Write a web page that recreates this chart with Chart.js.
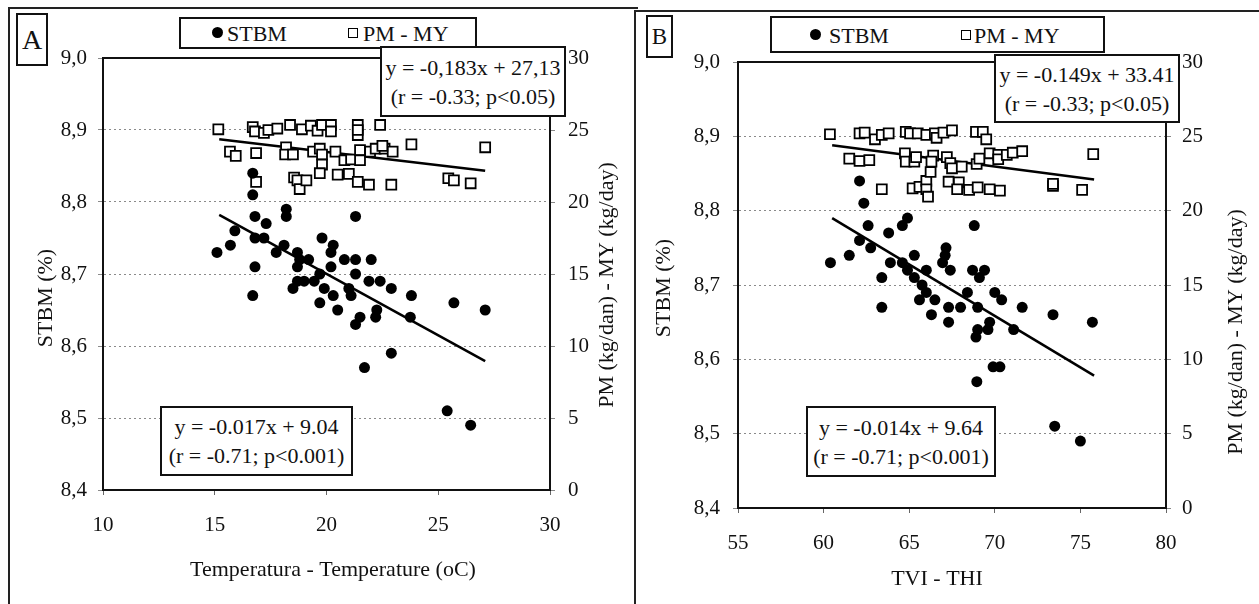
<!DOCTYPE html>
<html>
<head>
<meta charset="utf-8">
<script src="https://cdn.jsdelivr.net/npm/chart.js@4.4.1/dist/chart.umd.min.js"></script>
<style>
  body { margin: 0; width: 1259px; height: 604px; position: relative; overflow: hidden; background: #fff;
         font-family: "Liberation Serif", "Times New Roman", serif; color: #111; }
  canvas { position: absolute; top: 0; }
  .frame { position: absolute; border-left: 2px solid #222; border-top: 2px solid #222; box-sizing: border-box; }
  .box { position: absolute; background: #fff; border: 2px solid #111; box-sizing: border-box; }
  .letter { display: flex; align-items: center; justify-content: center; }
  .eq { display: flex; flex-direction: column; align-items: center; justify-content: center; font-size: 22px; line-height: 29px; white-space: nowrap; }
  .legend span { position: absolute; }
  .legend .lbl { font-size: 22px; line-height: 22px; }
  .dot { width: 11px; height: 11px; border-radius: 50%; background: #000; }
  .sq { width: 8px; height: 8px; border: 1.5px solid #000; background: #fff; }
</style>
</head>
<body>
<div class="frame" style="left:8px;top:7px;width:630px;height:600px"></div>
<div class="frame" style="left:634px;top:10px;width:640px;height:600px"></div>

<canvas id="chartA" width="630" height="604" style="left:0"></canvas>
<canvas id="chartB" width="629" height="604" style="left:630px"></canvas>

<div class="box letter" style="left:16px;top:13px;width:32px;height:53px;font-size:28px">A</div>
<div class="box letter" style="left:646px;top:15px;width:27px;height:43px;font-size:23px">B</div>

<div class="box legend" style="left:179px;top:17px;width:298px;height:32px">
  <span class="dot" style="left:31px;top:8px"></span><span class="lbl" style="left:46px;top:4px">STBM</span>
  <span class="sq" style="left:167px;top:9px"></span><span class="lbl" style="left:182px;top:4px">PM - MY</span>
</div>
<div class="box legend" style="left:770px;top:16px;width:335px;height:37px">
  <span class="dot" style="left:38px;top:11px"></span><span class="lbl" style="left:57px;top:7px">STBM</span>
  <span class="sq" style="left:189px;top:12px"></span><span class="lbl" style="left:202px;top:7px">PM - MY</span>
</div>

<div class="box eq" style="left:380px;top:46px;width:186px;height:71px">
  <div>y = -0,183x + 27,13</div><div>(r = -0.33; p&lt;0.05)</div>
</div>
<div class="box eq" style="left:160px;top:406px;width:193px;height:70px">
  <div>y = -0.017x + 9.04</div><div>(r = -0.71; p&lt;0.001)</div>
</div>
<div class="box eq" style="left:994px;top:54px;width:186px;height:69px">
  <div>y = -0.149x + 33.41</div><div>(r = -0.33; p&lt;0.05)</div>
</div>
<div class="box eq" style="left:806px;top:406px;width:190px;height:71px">
  <div>y = -0.014x + 9.64</div><div>(r = -0.71; p&lt;0.001)</div>
</div>

<script>
// ---- panel A: temperature ----
const tempStbm = [15.1, 15.7, 15.9, 16.7, 16.7, 16.8, 17.3, 16.8, 17.2, 16.8, 16.7, 17.75, 18.2, 18.2, 18.1,
  18.7, 18.8, 19.2, 18.7, 18.7, 19.0, 18.5, 19.8, 20.3, 20.2, 19.7, 19.9, 19.45, 20.2, 20.8, 21.3, 21.3,
  22.0, 21.3, 21.9, 22.4, 22.9, 21.0, 20.3, 21.1, 23.8, 19.7, 20.5, 21.5, 21.3, 22.25, 22.2, 23.75, 25.7,
  27.1, 22.9, 21.7, 25.4, 26.45];
const stbmA = [8.73, 8.74, 8.76, 8.84, 8.81, 8.78, 8.77, 8.75, 8.75, 8.71, 8.67, 8.73, 8.79, 8.78, 8.74,
  8.73, 8.72, 8.72, 8.71, 8.69, 8.69, 8.68, 8.75, 8.74, 8.73, 8.70, 8.68, 8.69, 8.71, 8.72, 8.72, 8.78,
  8.72, 8.70, 8.69, 8.69, 8.68, 8.68, 8.67, 8.67, 8.67, 8.66, 8.65, 8.64, 8.63, 8.65, 8.64, 8.64, 8.66,
  8.65, 8.59, 8.57, 8.51, 8.49];
const tempPm = [15.16, 15.68, 15.94, 16.85, 16.7, 16.8, 17.2, 17.4, 17.8, 18.37, 18.19, 18.15, 18.5, 18.9,
  19.3, 19.6, 19.8, 20.2, 20.2, 19.4, 19.7, 19.8, 19.8, 19.7, 20.4, 20.8, 21.1, 21.5, 21.4, 21.4, 21.4,
  22.4, 21.5, 21.95, 22.2, 22.6, 22.96, 23.8, 20.5, 21.0, 21.4, 21.9, 22.9, 18.55, 18.7, 18.8, 19.1,
  16.85, 27.1, 25.45, 25.7, 26.45, 22.5];
const pmA = [25.05, 23.5, 23.2, 23.4, 25.2, 24.9, 24.8, 25.0, 25.1, 25.35, 23.8, 23.3, 23.3, 25.05,
  25.3, 24.95, 25.35, 25.35, 24.9, 23.5, 23.7, 23.3, 22.6, 22.0, 23.5, 22.9, 22.95, 23.6, 25.35, 24.65, 25.0,
  25.35, 22.9, 23.5, 23.7, 23.7, 23.5, 24.0, 21.9, 21.95, 21.4, 21.2, 21.2, 21.7, 21.5, 20.9, 21.5,
  21.4, 23.8, 21.65, 21.5, 21.3, 23.9];
const trendTempA = [15.2, 27.1];
const trendStbmA = [8.782, 8.579];
const trendPmA = [24.35, 22.17];

// ---- panel B: THI ----
const thiStbm = [60.4, 61.5, 62.1, 62.35, 62.6, 62.1, 62.75, 63.8, 63.4, 63.9, 64.6, 64.9, 64.6, 64.9,
  65.3, 65.3, 66.0, 65.75, 66.0, 67.15, 67.1, 66.95, 67.4, 68.7, 69.4, 68.8, 69.1, 68.4, 70.0, 70.4,
  63.4, 65.6, 66.5, 66.3, 67.3, 67.3, 68.0, 69.0, 69.0, 68.9, 69.6, 69.7, 71.6, 71.1, 69.9, 70.3, 68.95,
  73.4, 75.7, 73.5, 75.0];
const stbmB = [8.73, 8.74, 8.84, 8.81, 8.78, 8.76, 8.75, 8.77, 8.71, 8.73, 8.78, 8.79, 8.73, 8.72,
  8.74, 8.71, 8.72, 8.70, 8.69, 8.75, 8.74, 8.73, 8.72, 8.72, 8.72, 8.78, 8.71, 8.69, 8.69, 8.68,
  8.67, 8.68, 8.68, 8.66, 8.67, 8.65, 8.67, 8.67, 8.64, 8.63, 8.64, 8.65, 8.67, 8.64, 8.59, 8.59, 8.57,
  8.66, 8.65, 8.51, 8.49];
const thiPm = [60.37, 61.5, 62.1, 62.67, 62.1, 62.4, 63.0, 63.4, 63.8, 64.8, 65.05, 65.5, 66.0, 66.5,
  66.6, 67.0, 67.5, 68.9, 69.3, 69.5, 64.75, 64.8, 65.3, 65.4, 66.4, 66.3, 67.2, 67.4, 67.5, 68.07, 68.94,
  69.1, 69.7, 70.2, 70.2, 70.7, 71.05, 71.6, 63.4, 65.2, 65.6, 66.0, 66.25, 66.0, 66.1, 67.3, 67.9, 67.8,
  68.5, 69.0, 69.7, 70.3, 73.4, 73.4, 75.75, 75.1];
const pmB = [25.14, 23.5, 23.34, 23.4, 25.2, 25.25, 24.8, 25.1, 25.2, 25.3, 25.2, 25.2, 25.1, 25.2,
  24.9, 25.25, 25.4, 25.3, 25.3, 24.8, 23.86, 23.3, 23.3, 23.6, 23.7, 23.3, 23.6, 23.2, 22.85, 22.96, 23.14,
  23.5, 23.86, 23.75, 23.46, 23.75, 23.9, 24.0, 21.44, 21.5, 21.6, 22.0, 22.6, 21.44, 20.94, 21.95, 21.9, 21.44,
  21.4, 21.57, 21.44, 21.35, 21.66, 21.8, 23.8, 21.4];
const trendThiB = [60.5, 75.8];
const trendStbmB = [8.79, 8.578];
const trendPmB = [24.4, 22.1];

// ---- ticks ----
const stbmTicks = [8.4, 8.5, 8.6, 8.7, 8.8, 8.9, 9.0];
const pmTicks = [0, 5, 10, 15, 20, 25, 30];
const tempTicks = [10, 15, 20, 25, 30];
const thiTicks = [55, 60, 65, 70, 75, 80];

const serif = 'Liberation Serif';
const pts = (xs, ys) => xs.map((x, i) => ({ x, y: ys[i] }));

// frame round the plot area + axis titles in the positions of the original
const extras = {
  id: 'extras',
  beforeDatasetsDraw(chart) {
    const { ctx, chartArea: a } = chart;
    ctx.save();
    ctx.strokeStyle = '#111';
    ctx.lineWidth = 2;
    ctx.strokeRect(a.left, a.top, a.right - a.left, a.bottom - a.top);
    ctx.restore();
  },
  afterDraw(chart, args, opts) {
    const ctx = chart.ctx;
    ctx.save();
    ctx.fillStyle = '#111';
    ctx.font = '22px "' + serif + '"';
    ctx.textAlign = 'center';
    ctx.textBaseline = 'middle';
    ctx.fillText(opts.xTitle.text, opts.xTitle.x, opts.xTitle.y);
    for (const t of [opts.leftTitle, opts.rightTitle]) {
      ctx.save();
      ctx.translate(t.x, t.y);
      ctx.rotate(-Math.PI / 2);
      ctx.fillText(t.text, 0, 0);
      ctx.restore();
    }
    ctx.restore();
  }
};

function makePanel(id, p) {
  const tickFont = { family: serif, size: 21 };
  return new Chart(document.getElementById(id), {
    type: 'scatter',
    data: {
      datasets: [
        { label: 'STBM', data: pts(p.xs1, p.ys1), yAxisID: 'y', pointStyle: 'circle', pointRadius: 5.5,
          backgroundColor: '#000', borderColor: '#000', borderWidth: 0 },
        { label: 'PM - MY', data: pts(p.xs2, p.ys2), yAxisID: 'y1', pointStyle: 'rect', pointRadius: 7,
          backgroundColor: '#fff', borderColor: '#000', borderWidth: 1.8 },
        { data: pts(p.tx, p.ty1), yAxisID: 'y', showLine: true, pointRadius: 0, borderColor: '#000', borderWidth: 2.5 },
        { data: pts(p.tx, p.ty2), yAxisID: 'y1', showLine: true, pointRadius: 0, borderColor: '#000', borderWidth: 2.5 }
      ]
    },
    options: {
      responsive: false,
      animation: false,
      events: [],
      layout: { padding: { top: p.top, left: 0, right: 0, bottom: 0 } },
      plugins: {
        legend: { display: false },
        tooltip: { enabled: false },
        extras: p.titles
      },
      scales: {
        x: {
          type: 'linear', min: p.xTicks[0], max: p.xTicks[p.xTicks.length - 1],
          afterBuildTicks: s => { s.ticks = p.xTicks.map(v => ({ value: v })); },
          afterFit: s => { s.height = p.xHeight; },
          grid: { drawOnChartArea: false, tickLength: 5, color: '#666' },
          border: { color: '#111', width: 2 },
          ticks: { font: tickFont, color: '#111', padding: p.xPad, maxRotation: 0, autoSkip: false }
        },
        y: {
          position: 'left', min: 8.4, max: 9.0,
          afterBuildTicks: s => { s.ticks = stbmTicks.map(v => ({ value: v })); },
          afterFit: s => { s.width = p.leftWidth; },
          grid: { color: '#8a8a8a', lineWidth: 1, tickLength: 5 },
          border: { color: '#111', width: 2, dash: [2, 3] },
          ticks: { font: tickFont, color: '#111', padding: p.leftPad, callback: v => v.toFixed(1).replace('.', ',') }
        },
        y1: {
          position: 'right', min: 0, max: 30,
          afterBuildTicks: s => { s.ticks = pmTicks.map(v => ({ value: v })); },
          afterFit: s => { s.width = p.rightWidth; },
          grid: { drawOnChartArea: false, tickLength: 5, color: '#888' },
          border: { color: '#111', width: 2 },
          ticks: { font: tickFont, color: '#111', padding: p.rightPad }
        }
      }
    },
    plugins: [extras]
  });
}

makePanel('chartA', {
  xs1: tempStbm, ys1: stbmA, xs2: tempPm, ys2: pmA,
  tx: trendTempA, ty1: trendStbmA, ty2: trendPmA, xTicks: tempTicks,
  top: 58, xHeight: 114, leftWidth: 103, rightWidth: 80, xPad: 18, leftPad: 11, rightPad: 13,
  titles: {
    xTitle: { text: 'Temperatura - Temperature (oC)', x: 333, y: 570 },
    leftTitle: { text: 'STBM (%)', x: 46, y: 298 },
    rightTitle: { text: 'PM (kg/dan) - MY (kg/day)', x: 607, y: 285 }
  }
});

makePanel('chartB', {
  xs1: thiStbm, ys1: stbmB, xs2: thiPm, ys2: pmB,
  tx: trendThiB, ty1: trendStbmB, ty2: trendPmB, xTicks: thiTicks,
  top: 62, xHeight: 96, leftWidth: 108, rightWidth: 93, xPad: 18, leftPad: 13, rightPad: 11,
  titles: {
    xTitle: { text: 'TVI - THI', x: 307, y: 579 },
    leftTitle: { text: 'STBM (%)', x: 34, y: 288 },
    rightTitle: { text: 'PM (kg/dan) - MY (kg/day)', x: 606, y: 332 }
  }
});
</script>
</body>
</html>
